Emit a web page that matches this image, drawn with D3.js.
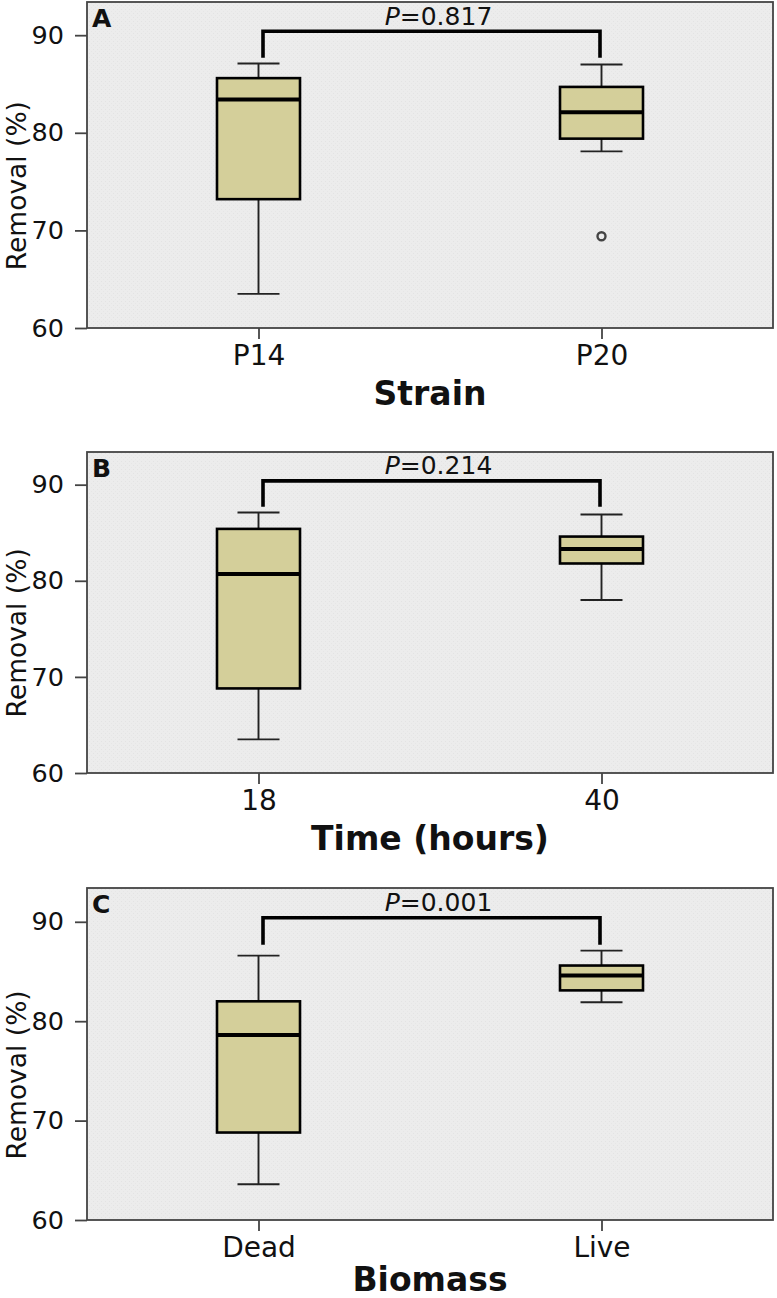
<!DOCTYPE html>
<html>
<head>
<meta charset="utf-8">
<script src="https://cdn.jsdelivr.net/npm/d3@7"></script>
<style>
  html, body { margin: 0; padding: 0; background: #ffffff; }
  svg { display: block; }
  text { font-family: "DejaVu Sans", Verdana, sans-serif; fill: #111; }
</style>
</head>
<body>
<svg id="chart" width="777" height="1298"></svg>
<script>
// ---- data ----
const panelLetters = ["A", "B", "C"];
const xTitles = ["Strain", "Time (hours)", "Biomass"];
const categories = [["P14", "P20"], ["18", "40"], ["Dead", "Live"]];
const pValues = ["0.817", "0.214", "0.001"];
const whiskerLow  = [[63.5, 78.1], [63.5, 78.0], [63.6, 81.9]];
const q1          = [[73.2, 79.4], [68.8, 81.8], [68.8, 83.1]];
const median      = [[83.4, 82.1], [80.7, 83.3], [78.6, 84.6]];
const q3          = [[85.6, 84.7], [85.4, 84.6], [82.0, 85.6]];
const whiskerHigh = [[87.1, 87.0], [87.1, 86.9], [86.6, 87.1]];
const outliers    = [[[], [69.4]], [[], []], [[], []]];
const yTicks = [60, 70, 80, 90];
const yDomain = [60, 93.4];
const bracketTop = 90.4;
const bracketEnd = 87.7;
const yTitle = "Removal (%)";

// ---- layout ----
const frameLeft = 87, frameRight = 773;
const panelTops = [2, 452, 888];
const panelBottoms = [328, 773, 1220];
const titleOffsets = [77, 77, 71];
const boxFill = "#d4cf9a";
const bgFill = "#ececec";

const svg = d3.select("#chart");

// subtle stipple texture
const defs = svg.append("defs");
const pat = defs.append("pattern").attr("id", "stip").attr("width", 4).attr("height", 4)
  .attr("patternUnits", "userSpaceOnUse");
pat.append("rect").attr("width", 4).attr("height", 4).attr("fill", bgFill);
pat.append("rect").attr("x", 1).attr("y", 1).attr("width", 1).attr("height", 1).attr("fill", "#e3e3e3");
pat.append("rect").attr("x", 3).attr("y", 3).attr("width", 1).attr("height", 1).attr("fill", "#e6e6e6");

panelLetters.forEach((letter, p) => {
  const top = panelTops[p], bottom = panelBottoms[p];
  const y = d3.scaleLinear().domain(yDomain).range([bottom, top]);
  const x = d3.scalePoint().domain(categories[p]).range([frameLeft, frameRight]).padding(0.5);
  const g = svg.append("g");

  // background frame
  g.append("rect").attr("x", frameLeft).attr("y", top)
    .attr("width", frameRight - frameLeft).attr("height", bottom - top)
    .attr("fill", "url(#stip)");

  // y axis
  const yAxis = d3.axisLeft(y).tickValues(yTicks).tickSize(12).tickPadding(11).tickFormat(d3.format("d"));
  const ya = g.append("g").attr("transform", `translate(${frameLeft},0)`).call(yAxis);
  ya.select(".domain").remove();
  ya.selectAll(".tick line").attr("stroke", "#444").attr("stroke-width", 1.8);
  ya.selectAll(".tick text").attr("font-size", 25.5).attr("fill", "#111")
    .attr("font-family", "DejaVu Sans, Verdana, sans-serif");

  // x axis
  const xAxis = d3.axisBottom(x).tickSize(11).tickPadding(6);
  const xa = g.append("g").attr("transform", `translate(0,${bottom})`).call(xAxis);
  xa.select(".domain").remove();
  xa.selectAll(".tick line").attr("stroke", "#444").attr("stroke-width", 1.8);
  xa.selectAll(".tick text").attr("font-size", 28).attr("fill", "#111")
    .attr("font-family", "DejaVu Sans, Verdana, sans-serif");

  // frame border
  g.append("rect").attr("x", frameLeft).attr("y", top)
    .attr("width", frameRight - frameLeft).attr("height", bottom - top)
    .attr("fill", "none").attr("stroke", "#444").attr("stroke-width", 1.8);

  // boxes
  const boxW = 83, capW = 42;
  categories[p].forEach((c, i) => {
    const cx = x(c);
    // whiskers
    g.append("line").attr("x1", cx).attr("x2", cx)
      .attr("y1", y(whiskerHigh[p][i])).attr("y2", y(q3[p][i]))
      .attr("stroke", "#222").attr("stroke-width", 1.9);
    g.append("line").attr("x1", cx).attr("x2", cx)
      .attr("y1", y(q1[p][i])).attr("y2", y(whiskerLow[p][i]))
      .attr("stroke", "#222").attr("stroke-width", 1.9);
    [whiskerHigh[p][i], whiskerLow[p][i]].forEach(v => {
      g.append("line").attr("x1", cx - capW / 2).attr("x2", cx + capW / 2)
        .attr("y1", y(v)).attr("y2", y(v))
        .attr("stroke", "#222").attr("stroke-width", 1.9);
    });
    // box
    g.append("rect").attr("x", cx - boxW / 2).attr("y", y(q3[p][i]))
      .attr("width", boxW).attr("height", y(q1[p][i]) - y(q3[p][i]))
      .attr("fill", boxFill).attr("stroke", "#000").attr("stroke-width", 2.6);
    // median
    g.append("line").attr("x1", cx - boxW / 2).attr("x2", cx + boxW / 2)
      .attr("y1", y(median[p][i])).attr("y2", y(median[p][i]))
      .attr("stroke", "#000").attr("stroke-width", 4);
    // outliers
    outliers[p][i].forEach(v => {
      g.append("circle").attr("cx", cx).attr("cy", y(v)).attr("r", 4)
        .attr("fill", "none").attr("stroke", "#444").attr("stroke-width", 2.4);
    });
  });

  // significance bracket
  const bx1 = x(categories[p][0]) + 4.5, bx2 = x(categories[p][1]) - 1.5;
  g.append("path")
    .attr("d", `M${bx1},${y(bracketEnd)} V${y(bracketTop)} H${bx2} V${y(bracketEnd)}`)
    .attr("fill", "none").attr("stroke", "#000").attr("stroke-width", 3.6);
  const pt = g.append("text").attr("x", (bx1 + bx2) / 2 + 7).attr("y", y(bracketTop) - 6.5)
    .attr("text-anchor", "middle").attr("font-size", 25);
  pt.append("tspan").attr("font-style", "italic").text("P");
  pt.append("tspan").text("=" + pValues[p]);

  // panel letter
  g.append("text").attr("x", frameLeft + 5).attr("y", top + 25)
    .attr("font-size", 25).attr("font-weight", "bold").text(letter);

  // y title
  const ymid = (y(60) + y(90)) / 2 + 4;
  g.append("text").attr("transform", `translate(26,${ymid}) rotate(-90)`)
    .attr("text-anchor", "middle").attr("font-size", 26.5).text(yTitle);

  // x title
  g.append("text").attr("x", (frameLeft + frameRight) / 2 - 0).attr("y", bottom + titleOffsets[p])
    .attr("text-anchor", "middle").attr("font-size", 33).attr("font-weight", "bold")
    .text(xTitles[p]);
});
</script>
</body>
</html>
